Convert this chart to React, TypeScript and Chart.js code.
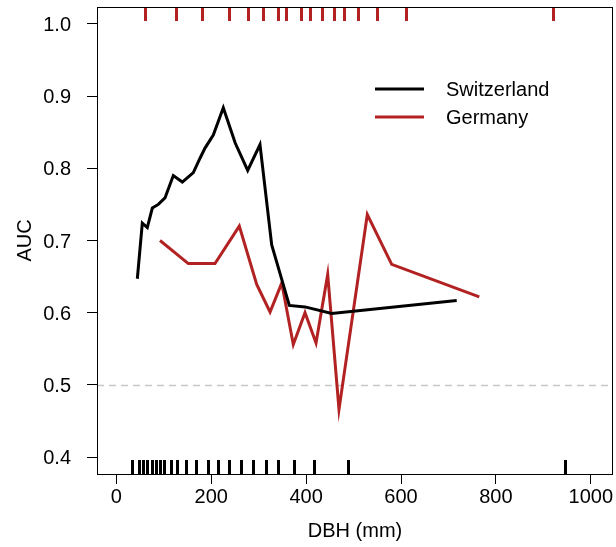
import React, { useEffect, useRef } from "react";
import { Chart, registerables } from "chart.js";

Chart.register(...registerables);

// Mean AUC per DBH class, Swiss sample
const swissDbh = [44.3, 54.8, 65.3, 75.9, 88.5, 102.6, 120.1, 139.1, 162.3, 176.4, 186.9, 204.4, 225.5, 250.6, 276.9, 302.8, 327.5, 364.6, 397.7, 454.0, 717.4];
const swissAuc = [0.647, 0.724, 0.718, 0.745, 0.750, 0.759, 0.790, 0.781, 0.794, 0.814, 0.828, 0.846, 0.884, 0.835, 0.797, 0.833, 0.694, 0.610, 0.608, 0.599, 0.617];

// Mean AUC per DBH class, German sample
const germanDbh = [92.1, 151.7, 208.0, 259.2, 295.9, 324.0, 348.6, 373.0, 397.7, 420.9, 445.5, 469.3, 529.0, 580.4, 765.0];
const germanAuc = [0.700, 0.668, 0.668, 0.720, 0.639, 0.601, 0.641, 0.556, 0.600, 0.558, 0.653, 0.466, 0.736, 0.667, 0.622];

// DBH class breaks shown as rugs (Swiss at the bottom, German at the top)
const swissRug = [33.7, 48.5, 56.9, 65.3, 74.6, 83.0, 92.1, 101.2, 114.6, 128.6, 146.3, 168.4, 192.6, 213.7, 237.5, 263.4, 288.7, 314.9, 341.4, 374.5, 417.3, 488.9, 945.6];
const germanRug = [60.5, 125.8, 180.0, 238.1, 276.9, 308.5, 340.1, 357.6, 388.6, 408.2, 432.9, 459.4, 479.9, 510.0, 548.8, 610.5, 919.7];

const xTicks = [0, 200, 400, 600, 800, 1000];
const yTicks = [0.4, 0.5, 0.6, 0.7, 0.8, 0.9, 1.0];
const referenceAuc = 0.5;

const seriesNames = ["Switzerland", "Germany"];
const seriesColors = ["#000000", "#b22222"];

const FONT = "'Liberation Sans', Arial, Helvetica, sans-serif";

const decorPlugin = {
  id: "decor",
  beforeDatasetsDraw(chart: any) {
    const { ctx, chartArea, scales } = chart;
    const y = Math.round(scales.y.getPixelForValue(referenceAuc)) + 0.5;
    ctx.save();
    ctx.strokeStyle = "#c8c8c8";
    ctx.lineWidth = 1.5;
    ctx.setLineDash([7, 5]);
    ctx.beginPath();
    ctx.moveTo(chartArea.left, y);
    ctx.lineTo(chartArea.right, y);
    ctx.stroke();
    ctx.restore();
  },
  afterDatasetsDraw(chart: any) {
    const { ctx, chartArea, scales } = chart;
    const { left, right, top, bottom } = chartArea;
    const rugLen = 14;
    ctx.save();
    ctx.lineWidth = 3;
    ctx.lineCap = "butt";
    // bottom rug
    ctx.strokeStyle = seriesColors[0];
    ctx.beginPath();
    for (const v of swissRug) {
      const px = Math.round(scales.x.getPixelForValue(v)) + 0.5;
      ctx.moveTo(px, bottom);
      ctx.lineTo(px, bottom - rugLen);
    }
    ctx.stroke();
    // top rug
    ctx.strokeStyle = seriesColors[1];
    ctx.beginPath();
    for (const v of germanRug) {
      const px = Math.round(scales.x.getPixelForValue(v)) + 0.5;
      ctx.moveTo(px, top);
      ctx.lineTo(px, top + rugLen);
    }
    ctx.stroke();

    // plot box
    ctx.lineWidth = 1;
    ctx.strokeStyle = "#000";
    ctx.strokeRect(left + 0.5, top + 0.5, right - left - 1, bottom - top);

    // legend
    const lx0 = left + 278;
    const lx1 = lx0 + 49;
    const tx = lx0 + 71;
    const ly = [top + 82, top + 110];
    ctx.font = `20px ${FONT}`;
    ctx.textBaseline = "middle";
    ctx.textAlign = "left";
    seriesNames.forEach((name, i) => {
      ctx.strokeStyle = seriesColors[i];
      ctx.lineWidth = 3;
      ctx.beginPath();
      ctx.moveTo(lx0, ly[i]);
      ctx.lineTo(lx1, ly[i]);
      ctx.stroke();
      ctx.fillStyle = "#000";
      ctx.fillText(name, tx, ly[i] + 1);
    });
    ctx.restore();
  },
};

export default function App() {
  const canvasRef = useRef<HTMLCanvasElement | null>(null);

  useEffect(() => {
    if (!canvasRef.current) return;
    const chart = new Chart(canvasRef.current, {
      type: "scatter",
      data: {
        datasets: [
          {
            label: seriesNames[0],
            data: swissDbh.map((x, i) => ({ x, y: swissAuc[i] })),
            showLine: true,
            borderColor: seriesColors[0],
            borderWidth: 3,
            pointRadius: 0,
            tension: 0,
          },
          {
            label: seriesNames[1],
            data: germanDbh.map((x, i) => ({ x, y: germanAuc[i] })),
            showLine: true,
            borderColor: seriesColors[1],
            borderWidth: 3,
            pointRadius: 0,
            tension: 0,
          },
        ],
      },
      options: {
        animation: false,
        responsive: false,
        maintainAspectRatio: false,
        devicePixelRatio: 1,
        layout: { padding: { left: 0, top: 7, right: 3, bottom: 0 } },
        plugins: {
          legend: { display: false },
          tooltip: { enabled: false },
        },
        scales: {
          x: {
            type: "linear",
            min: -40.7,
            max: 1046.8,
            afterBuildTicks: (scale: any) => {
              scale.ticks = xTicks.map((value) => ({ value }));
            },
            afterFit: (scale: any) => {
              scale.height = 73;
              scale.paddingLeft = 0;
              scale.paddingRight = 0;
            },
            border: { display: false },
            grid: {
              drawOnChartArea: false,
              drawTicks: true,
              tickLength: 10,
              color: "#000",
              lineWidth: 1,
            },
            ticks: {
              color: "#000",
              padding: 1,
              maxRotation: 0,
              font: { family: FONT, size: 20 },
              callback: (v: any) => String(v),
            },
            title: {
              display: true,
              text: "DBH (mm)",
              color: "#000",
              font: { family: FONT, size: 20 },
              padding: { top: 0, bottom: 4 },
            },
          },
          y: {
            type: "linear",
            min: 0.3765,
            max: 1.0235,
            afterBuildTicks: (scale: any) => {
              scale.ticks = yTicks.map((value) => ({ value }));
            },
            afterFit: (scale: any) => {
              scale.width = 97;
              scale.paddingTop = 0;
              scale.paddingBottom = 0;
            },
            border: { display: false },
            grid: {
              drawOnChartArea: false,
              drawTicks: true,
              tickLength: 10,
              color: "#000",
              lineWidth: 1,
            },
            ticks: {
              color: "#000",
              padding: 16,
              labelOffset: 1.5,
              font: { family: FONT, size: 20 },
              callback: (v: any) => Number(v).toFixed(1),
            },
            title: {
              display: true,
              text: "AUC",
              color: "#000",
              font: { family: FONT, size: 20 },
              padding: { top: 13, bottom: 0 },
            },
          },
        },
      },
      plugins: [decorPlugin],
    });
    return () => chart.destroy();
  }, []);

  return (
    <div style={{ position: "absolute", left: 0, top: 0, width: 616, height: 547, background: "#fff" }}>
      <canvas ref={canvasRef} width={616} height={547} style={{ display: "block" }} />
    </div>
  );
}
